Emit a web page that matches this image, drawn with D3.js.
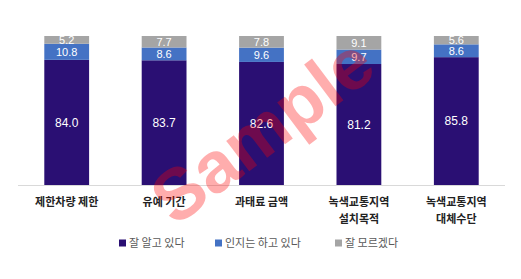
<!DOCTYPE html>
<html>
<head>
<meta charset="utf-8">
<script src="https://cdn.jsdelivr.net/npm/d3@7.9.0/dist/d3.min.js"></script>
<style>
  body { margin: 0; background: #fff; }
  svg { display: block; font-family: "Noto Sans CJK KR", "Noto Sans", sans-serif; }
</style>
</head>
<body>
<svg id="chart" width="521" height="279"></svg>
<script>
// categories (second line after \n)
const categories = ['제한차량 제한', '유예 기간', '과태료 금액', '녹색교통지역\n설치목적', '녹색교통지역\n대체수단'];
const seriesNames = ['잘 알고 있다', '인지는 하고 있다', '잘 모르겠다'];
const knowWell = [84.0, 83.7, 82.6, 81.2, 85.8];
const awareOnly = [10.8, 8.6, 9.6, 9.7, 8.6];
const dontKnow = [5.2, 7.7, 7.8, 9.1, 5.6];
const colors = ['#2a0f73', '#4472c4', '#a5a5a5'];

const svg = d3.select('#chart');
const margin = { top: 36, left: 18, right: 16, bottom: 94 };
const width = 521, height = 279;

const rows = categories.map((c, i) => ({ cat: c, s0: knowWell[i], s1: awareOnly[i], s2: dontKnow[i] }));
const stack = d3.stack().keys(['s0', 's1', 's2'])(rows);

const x = d3.scaleBand().domain(categories).range([margin.left, width - margin.right]).paddingInner(0.54).paddingOuter(0.27);
const y = d3.scaleLinear().domain([0, 100]).range([height - margin.bottom, margin.top]);

// bars
const layers = svg.selectAll('g.layer').data(stack).join('g').attr('fill', (d, i) => colors[i]);
layers.selectAll('rect').data(d => d).join('rect')
  .attr('x', d => x(d.data.cat))
  .attr('width', x.bandwidth())
  .attr('y', d => y(d[1]))
  .attr('height', d => y(d[0]) - y(d[1]));

// value labels (small top ones sit tight, like the original)
stack.forEach((layer, li) => {
  svg.append('g').selectAll('text').data(layer).join('text')
    .attr('x', d => x(d.data.cat) + x.bandwidth() / 2)
    .attr('y', d => (y(d[0]) + y(d[1])) / 2)
    .attr('dy', '0.36em')
    .attr('text-anchor', 'middle')
    .attr('fill', '#fff')
    .attr('font-size', li === 0 ? 12 : 11)
    .style('font-family', 'Liberation Sans, Arial, sans-serif')
    .text(d => (d[1] - d[0]).toFixed(1));
});

// axis line
svg.append('line')
  .attr('x1', margin.left).attr('x2', width - margin.right)
  .attr('y1', y(0) + 0.5).attr('y2', y(0) + 0.5)
  .attr('stroke', '#d9d9d9');

// category labels
categories.forEach(c => {
  const t = svg.append('text')
    .attr('x', x(c) + x.bandwidth() / 2)
    .attr('y', y(0) + 21)
    .attr('text-anchor', 'middle')
    .attr('font-size', 11)
    .attr('font-weight', 'bold')
    .attr('fill', '#222');
  c.split('\n').forEach((line, i) => {
    t.append('tspan').attr('x', x(c) + x.bandwidth() / 2).attr('dy', i ? 17 : 0).text(line);
  });
});

// legend
const legendX = [119, 215, 335];
const legend = svg.append('g');
seriesNames.forEach((name, i) => {
  legend.append('rect').attr('x', legendX[i]).attr('y', 239.5).attr('width', 7).attr('height', 7).attr('fill', colors[i]);
  legend.append('text').attr('x', legendX[i] + 10).attr('y', 243).attr('dy', '0.36em')
    .attr('font-size', 11).attr('fill', '#595959').text(name);
});

// watermark
svg.append('text')
  .attr('transform', 'translate(262,130) rotate(-37)')
  .attr('text-anchor', 'middle')
  .attr('dy', '0.35em')
  .attr('font-size', 72)
  .attr('font-weight', 'bold')
  .style('font-family', 'Liberation Sans, Arial, sans-serif')
  .attr('fill', 'rgba(255,0,0,0.32)')
  .text('Sample');
</script>
</body>
</html>
